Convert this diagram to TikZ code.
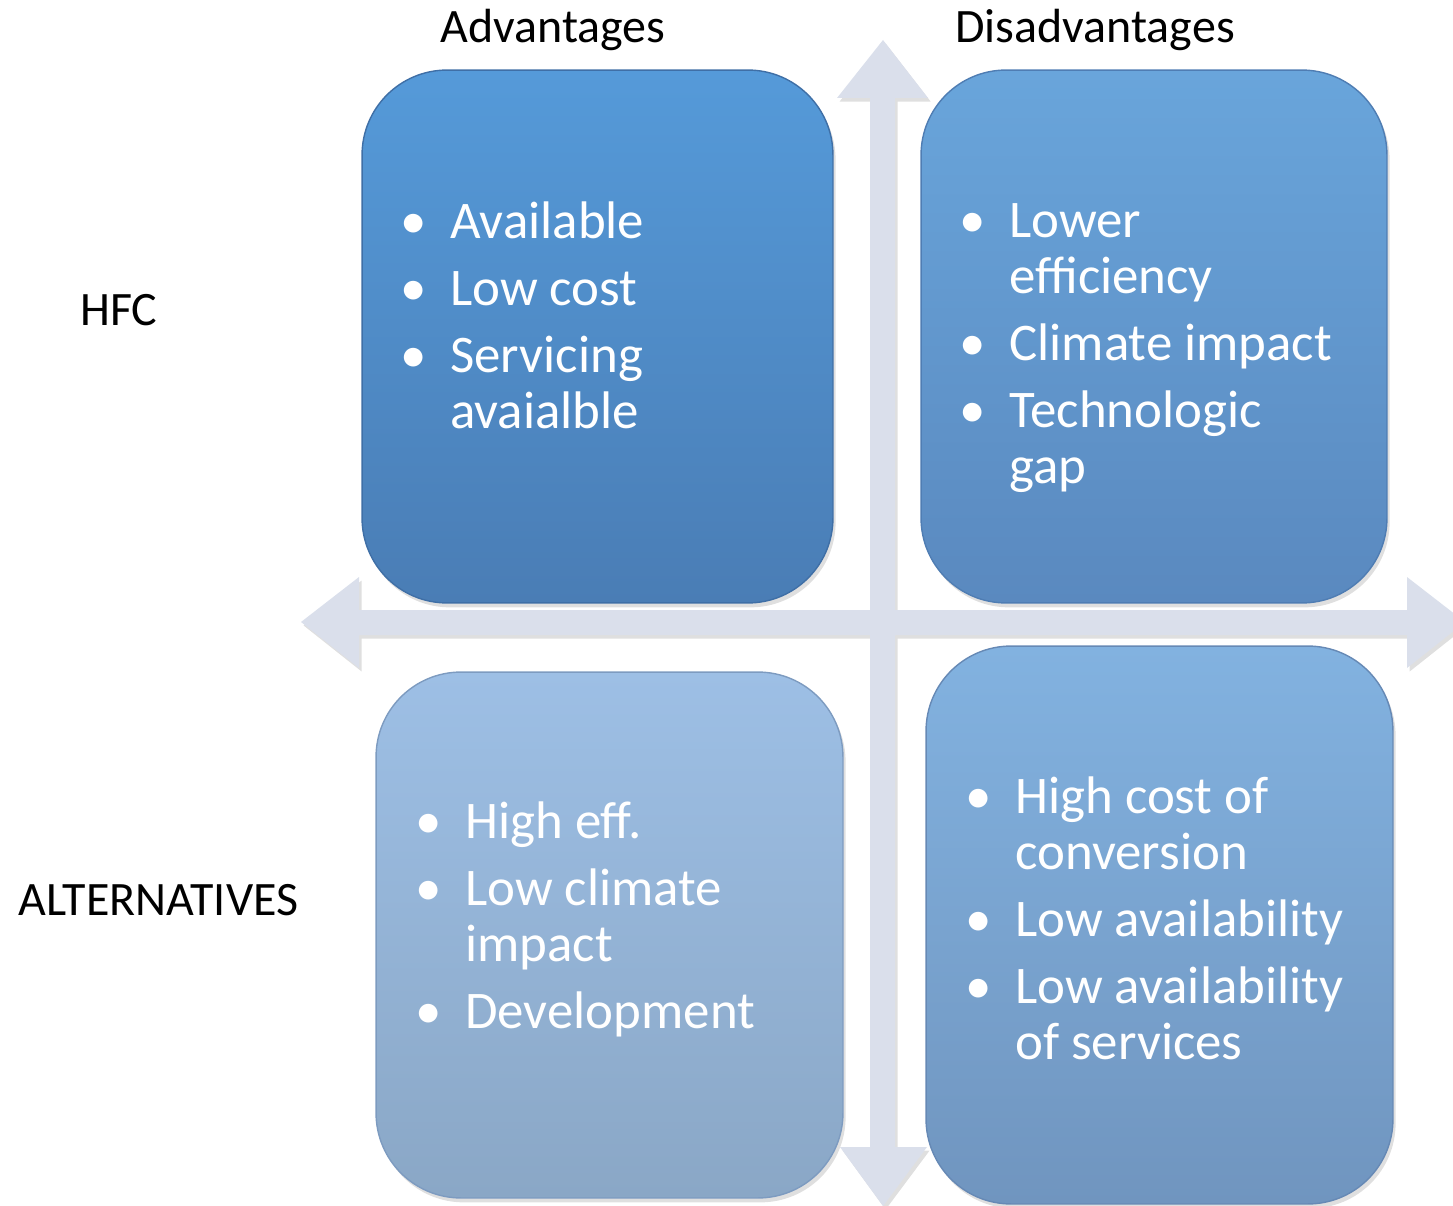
\documentclass[tikz,border=0pt]{standalone}
\usepackage{fontspec}
\setmainfont{Carlito}
\usetikzlibrary{positioning,shadows}

\definecolor{axisgray}{HTML}{DADFEB}
\definecolor{tltop}{HTML}{559AD9}\definecolor{tlbot}{HTML}{4A7DB5}\definecolor{tlrim}{HTML}{3F6FA6}
\definecolor{trtop}{HTML}{69A5DB}\definecolor{trbot}{HTML}{5A89BF}\definecolor{trrim}{HTML}{4F7DB3}
\definecolor{bltop}{HTML}{9DBFE5}\definecolor{blbot}{HTML}{8AA7C6}\definecolor{blrim}{HTML}{7D9BC0}
\definecolor{brtop}{HTML}{82B2E0}\definecolor{brbot}{HTML}{7095BF}\definecolor{brrim}{HTML}{6689B5}

% bullet hanging 0.74cm left of the text
\newcommand{\bul}{\llap{\makebox[1.48cm]{\textbullet}}}
\newcommand{\gap}{\\[6.25pt]}

\tikzset{
  quad/.style={rectangle, rounded corners=1.7cm, line width=0.8pt,
    drop shadow={opacity=0.25, shadow xshift=1.5pt, shadow yshift=-2.5pt}},
  items/.style={anchor=base west, inner sep=0pt, align=left, text=white,
    font=\fontsize{30.1}{31.75}\selectfont},
  head/.style={anchor=base west, inner sep=0pt, font=\fontsize{27.3}{30}\selectfont},
}

\begin{document}
\begin{tikzpicture}[x=0.02cm,y=-0.02cm]
\useasboundingbox (0,0) rectangle (1453,1206);
%----axes (one path, so the shadow stays under the cross)----%
\fill[axisgray, drop shadow={opacity=0.25, shadow xshift=1.5pt, shadow yshift=-2pt}]
  (883,40) -- (928,98) -- (895,98) -- (895,1147) -- (927,1147) -- (883,1206)
  -- (840,1147) -- (870,1147) -- (870,98) -- (837,98) -- cycle
  (301,622) -- (359,577) -- (359,610) -- (1407,610) -- (1407,577) -- (1465,622)
  -- (1407,668) -- (1407,635) -- (359,635) -- (359,668) -- cycle;
%----boxes----%
\node[quad, draw=tlrim, top color=tltop, bottom color=tlbot,
  minimum width=9.42cm, minimum height=10.66cm] (hfcadv) at (597.5,336.5) {};
\node[quad, draw=trrim, top color=trtop, bottom color=trbot,
  minimum width=9.32cm, minimum height=10.66cm] (hfcdis) at (1154,336.5) {};
\node[quad, draw=blrim, top color=bltop, bottom color=blbot,
  minimum width=9.34cm, minimum height=10.52cm] (altadv) at (609.5,935) {};
\node[quad, draw=brrim, top color=brtop, bottom color=brbot,
  minimum width=9.34cm, minimum height=11.16cm] (altdis) at (1159.5,925) {};
%----lists (placed by the baseline of their last line)----%
\node[items] (hfcadvtext) at (450,428)
  {\bul Available\gap \bul Low cost\gap \bul Servicing\\ avaialble};
\node[items] (hfcdistext) at (1009,483)
  {\bul Lower\\ efficiency\gap \bul Climate impact\gap \bul Technologic\\ gap};
\node[items] (altadvtext) at (465,1028)
  {\bul High eff.\gap \bul Low climate\\ impact\gap \bul Development};
\node[items] (altdistext) at (1015,1059)
  {\bul High cost of\\ conversion\gap \bul Low availability\gap \bul Low availability\\ of services};
%----headings----%
\node[head] (adv) at (440,43) {Advantages};
\node[head] (dis) at (955,43) {Disadvantages};
\node[head] (hfc) at (80,325) {HFC};
\node[head] (alt) at (18,915) {ALTERNATIVES};
\end{tikzpicture}
\end{document}
